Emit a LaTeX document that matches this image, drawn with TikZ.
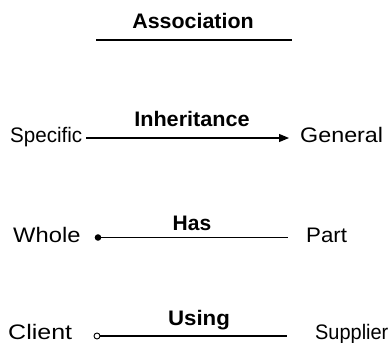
\documentclass[tikz,border=0pt]{standalone}
\usepackage{fontspec}
\setmainfont{Liberation Sans}
\usetikzlibrary{arrows.meta}
\begin{document}
\begin{tikzpicture}[x=1pt,y=-1pt,
  term/.style={inner sep=0pt,anchor=base west,font=\fontsize{21}{25}\selectfont},
  kind/.style={inner sep=0pt,anchor=base,font=\fontsize{21}{25}\selectfont\bfseries},
  link/.style={line width=1.1pt},
  headarrow/.style={-{Triangle[length=10pt,width=8pt]}}]
\useasboundingbox (0,0) rectangle (392,343);
% heading with underline
\node[kind,xscale=1.02] (assoc) at (193,28) {Association};
\coordinate (ul) at (96,40);
\coordinate (ur) at (292,40);
\draw[line width=1.8pt] (ul) -- (ur);
% inheritance
\node[term,xscale=0.98] (spec) at (10,142) {Specific};
\node[term,xscale=1.11] (gen) at (300,142) {General};
\coordinate (i1) at (86,138);
\coordinate (i2) at (289,138);
\draw[link,headarrow] (i1) -- (i2);
\node[kind,xscale=1.03] (inh) at (192,126) {Inheritance};
% aggregation
\node[term,xscale=1.13] (whole) at (13,242) {Whole};
\node[term,xscale=1.06] (part) at (306,242) {Part};
\coordinate (h1) at (98,237.5);
\coordinate (h2) at (288,237.5);
\draw[link] (h1) -- (h2);
\fill (h1) circle (3.3pt);
\node[kind] (has) at (192,230) {Has};
% usage
\node[term,xscale=1.19] (client) at (8,339) {Client};
\node[term,xscale=0.95] (supp) at (315,339) {Supplier};
\coordinate (c0) at (97,336);
\coordinate (c1) at (100,336);
\coordinate (c2) at (287,336);
\draw[link] (c1) -- (c2);
\draw[line width=0.9pt,fill=white] (c0) circle (3pt);
\node[kind,xscale=1.06] (using) at (199,325) {Using};
\end{tikzpicture}
\end{document}
